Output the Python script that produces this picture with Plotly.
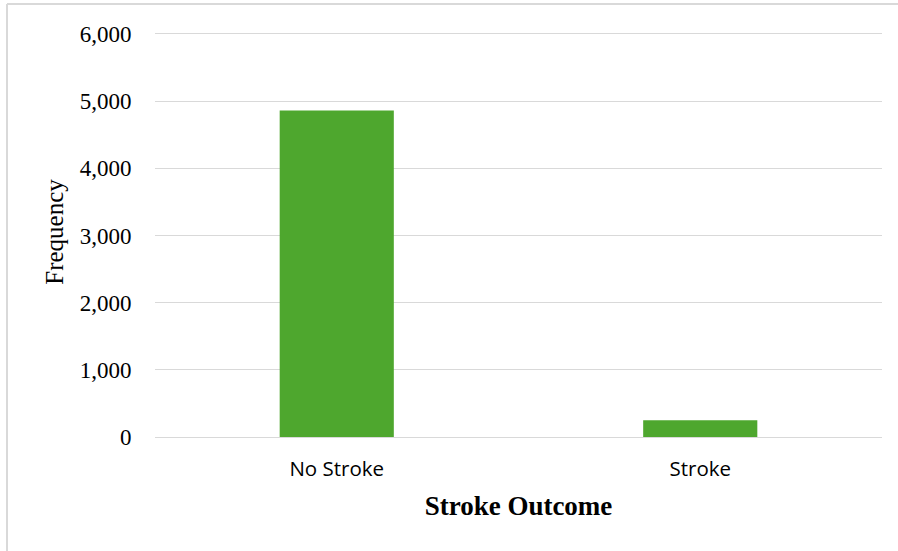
import plotly.graph_objects as go

# Stroke outcome counts
categories = ["No Stroke", "Stroke"]
frequency = [4861, 249]
y_ticks = [0, 1000, 2000, 3000, 4000, 5000, 6000]
y_max = 6104  # small headroom so the 6,000 gridline is drawn

W, H = 898, 551
L, R, T, B = 155, 16, 27, 114
pw, ph = W - L - R, H - T - B

fig = go.Figure(
    go.Bar(
        x=categories,
        y=frequency,
        marker=dict(color="#4ea72e", line=dict(width=0)),
        width=0.314,
    )
)

fig.update_layout(
    width=W,
    height=H,
    margin=dict(l=L, r=R, t=T, b=B),
    paper_bgcolor="white",
    plot_bgcolor="white",
    showlegend=False,
    xaxis=dict(
        title=dict(
            text="<b>Stroke Outcome</b>",
            font=dict(family="Liberation Serif", size=27, color="black"),
            standoff=15,
        ),
        tickfont=dict(family="Open Sans", size=20.5, color="black"),
        showgrid=False,
        showline=False,
        ticks="outside",
        ticklen=13,
        tickcolor="rgba(0,0,0,0)",
    ),
    yaxis=dict(
        title=dict(
            text="Frequency",
            font=dict(family="Liberation Serif", size=25, color="black"),
            standoff=8,
        ),
        range=[0, y_max],
        tickvals=y_ticks,
        ticktext=[f"{v:,}" for v in y_ticks],
        tickfont=dict(family="Liberation Serif", size=23, color="black"),
        showgrid=True,
        gridcolor="#d9d9d9",
        gridwidth=1,
        zeroline=True,
        zerolinecolor="#d9d9d9",
        zerolinewidth=1,
        ticks="outside",
        ticklen=18,
        tickcolor="rgba(0,0,0,0)",
        showline=False,
    ),
)

# Light frame around the chart area (left and top edges)
frame_left = (7 - L) / pw
frame_top = (H - B - 4) / ph
fig.add_shape(
    type="line", xref="paper", yref="paper",
    x0=frame_left, x1=frame_left,
    y0=(-B - 5) / ph, y1=frame_top,
    line=dict(color="#d9d9d9", width=2),
)
fig.add_shape(
    type="line", xref="paper", yref="paper",
    x0=frame_left, x1=(W + 5 - L) / pw,
    y0=frame_top, y1=frame_top,
    line=dict(color="#d9d9d9", width=2),
)

fig.write_html("out.html")
